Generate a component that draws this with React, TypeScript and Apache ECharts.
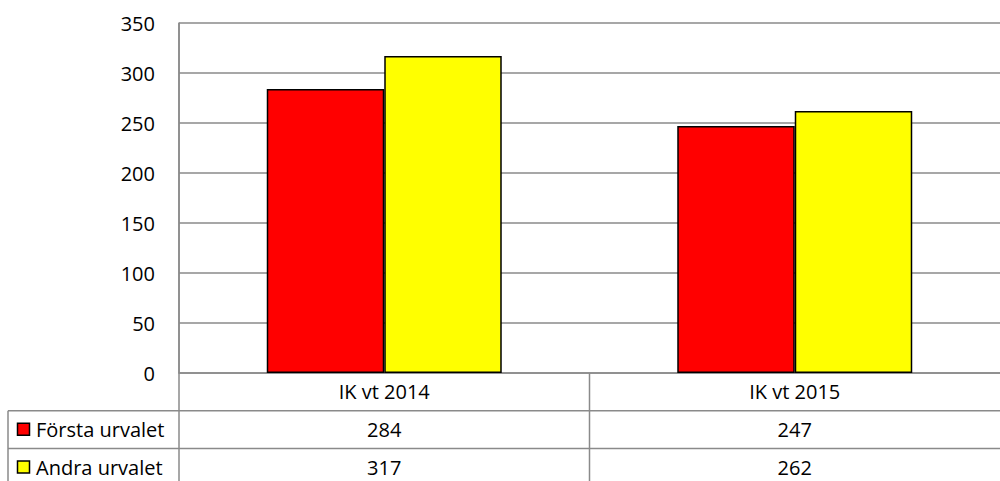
import React, { useEffect, useRef } from "react";
import * as echarts from "echarts";

const categories = ["IK vt 2014", "IK vt 2015"];
const seriesNames = ["Första urvalet", "Andra urvalet"];
const forstaUrvalet = [284, 247];
const andraUrvalet = [317, 262];
const seriesColors = ["#ff0000", "#ffff00"];
const yMin = 0;
const yMax = 350;
const yInterval = 50;

const FONT = "'Open Sans', sans-serif";
const GRID_COLOR = "#8a8a8a";

export default function App() {
  const ref = useRef<HTMLDivElement>(null);

  useEffect(() => {
    if (!ref.current) return;
    const chart = echarts.init(ref.current, undefined, { renderer: "svg" });
    const seriesData = [forstaUrvalet, andraUrvalet];

    const gridLeft = 179;
    const gridTop = 23;
    const gridBottomY = 373;
    const rowH = 37.8;
    const row1 = gridBottomY + rowH;
    const row2 = gridBottomY + 2 * rowH;
    const midX = (gridLeft + 1000) / 2;

    const lineStyle = { stroke: GRID_COLOR, lineWidth: 1.5 };
    const graphics: any[] = [
      { type: "line", shape: { x1: 8, y1: row1, x2: 1000, y2: row1 }, style: lineStyle, z: 10 },
      { type: "line", shape: { x1: 8, y1: row2, x2: 1000, y2: row2 }, style: lineStyle, z: 10 },
      { type: "line", shape: { x1: 8, y1: row1, x2: 8, y2: 481 }, style: lineStyle, z: 10 },
      { type: "line", shape: { x1: gridLeft, y1: gridTop, x2: gridLeft, y2: 481 }, style: lineStyle, z: 10 },
      { type: "line", shape: { x1: midX, y1: gridBottomY, x2: midX, y2: 481 }, style: lineStyle, z: 10 },
    ];
    seriesNames.forEach((name, i) => {
      const cy = gridBottomY + rowH * (i + 1) + rowH / 2;
      graphics.push({
        type: "rect",
        shape: { x: 17.5, y: cy - 6.5, width: 12, height: 12 },
        style: { fill: seriesColors[i], stroke: "#000", lineWidth: 1.5 },
        z: 10,
      });
      graphics.push({
        type: "text",
        x: 36,
        y: cy,
        style: {
          text: name,
          font: `20px ${FONT}`,
          fill: "#000",
          textVerticalAlign: "middle",
          verticalAlign: "middle",
        },
        z: 10,
      });
    });

    chart.setOption({
      animation: false,
      backgroundColor: "#fff",
      grid: {
        left: gridLeft,
        right: 0,
        top: gridTop,
        bottom: 481 - gridBottomY,
        containLabel: false,
        outerBoundsMode: "none",
      },
      xAxis: {
        type: "category",
        data: categories,
        axisLine: { show: true, lineStyle: { color: GRID_COLOR, width: 1.5 } },
        axisTick: { show: false },
        axisLabel: {
          interval: 0,
          margin: 0,
          color: "#000",
          fontFamily: FONT,
          fontSize: 20,
          lineHeight: rowH,
          formatter: (v: string, idx: number) =>
            `${v}\n${forstaUrvalet[idx]}\n${andraUrvalet[idx]}`,
        },
        splitLine: { show: false },
      },
      yAxis: {
        type: "value",
        min: yMin,
        max: yMax,
        interval: yInterval,
        axisLine: { show: true, lineStyle: { color: GRID_COLOR, width: 1.5 } },
        axisTick: { show: false },
        axisLabel: { color: "#000", fontFamily: FONT, fontSize: 20, margin: 24 },
        splitLine: { show: true, lineStyle: { color: GRID_COLOR, width: 1.5 } },
      },
      series: seriesNames.map((name, i) => ({
        name,
        type: "bar",
        data: seriesData[i],
        barWidth: 117.5,
        barGap: "0%",
        itemStyle: { color: seriesColors[i], borderColor: "#000", borderWidth: 1.5 },
      })),
      graphic: graphics,
    });

    return () => chart.dispose();
  }, []);

  return (
    <div
      ref={ref}
      style={{ position: "fixed", left: 0, top: 0, width: 1000, height: 481 }}
    />
  );
}
